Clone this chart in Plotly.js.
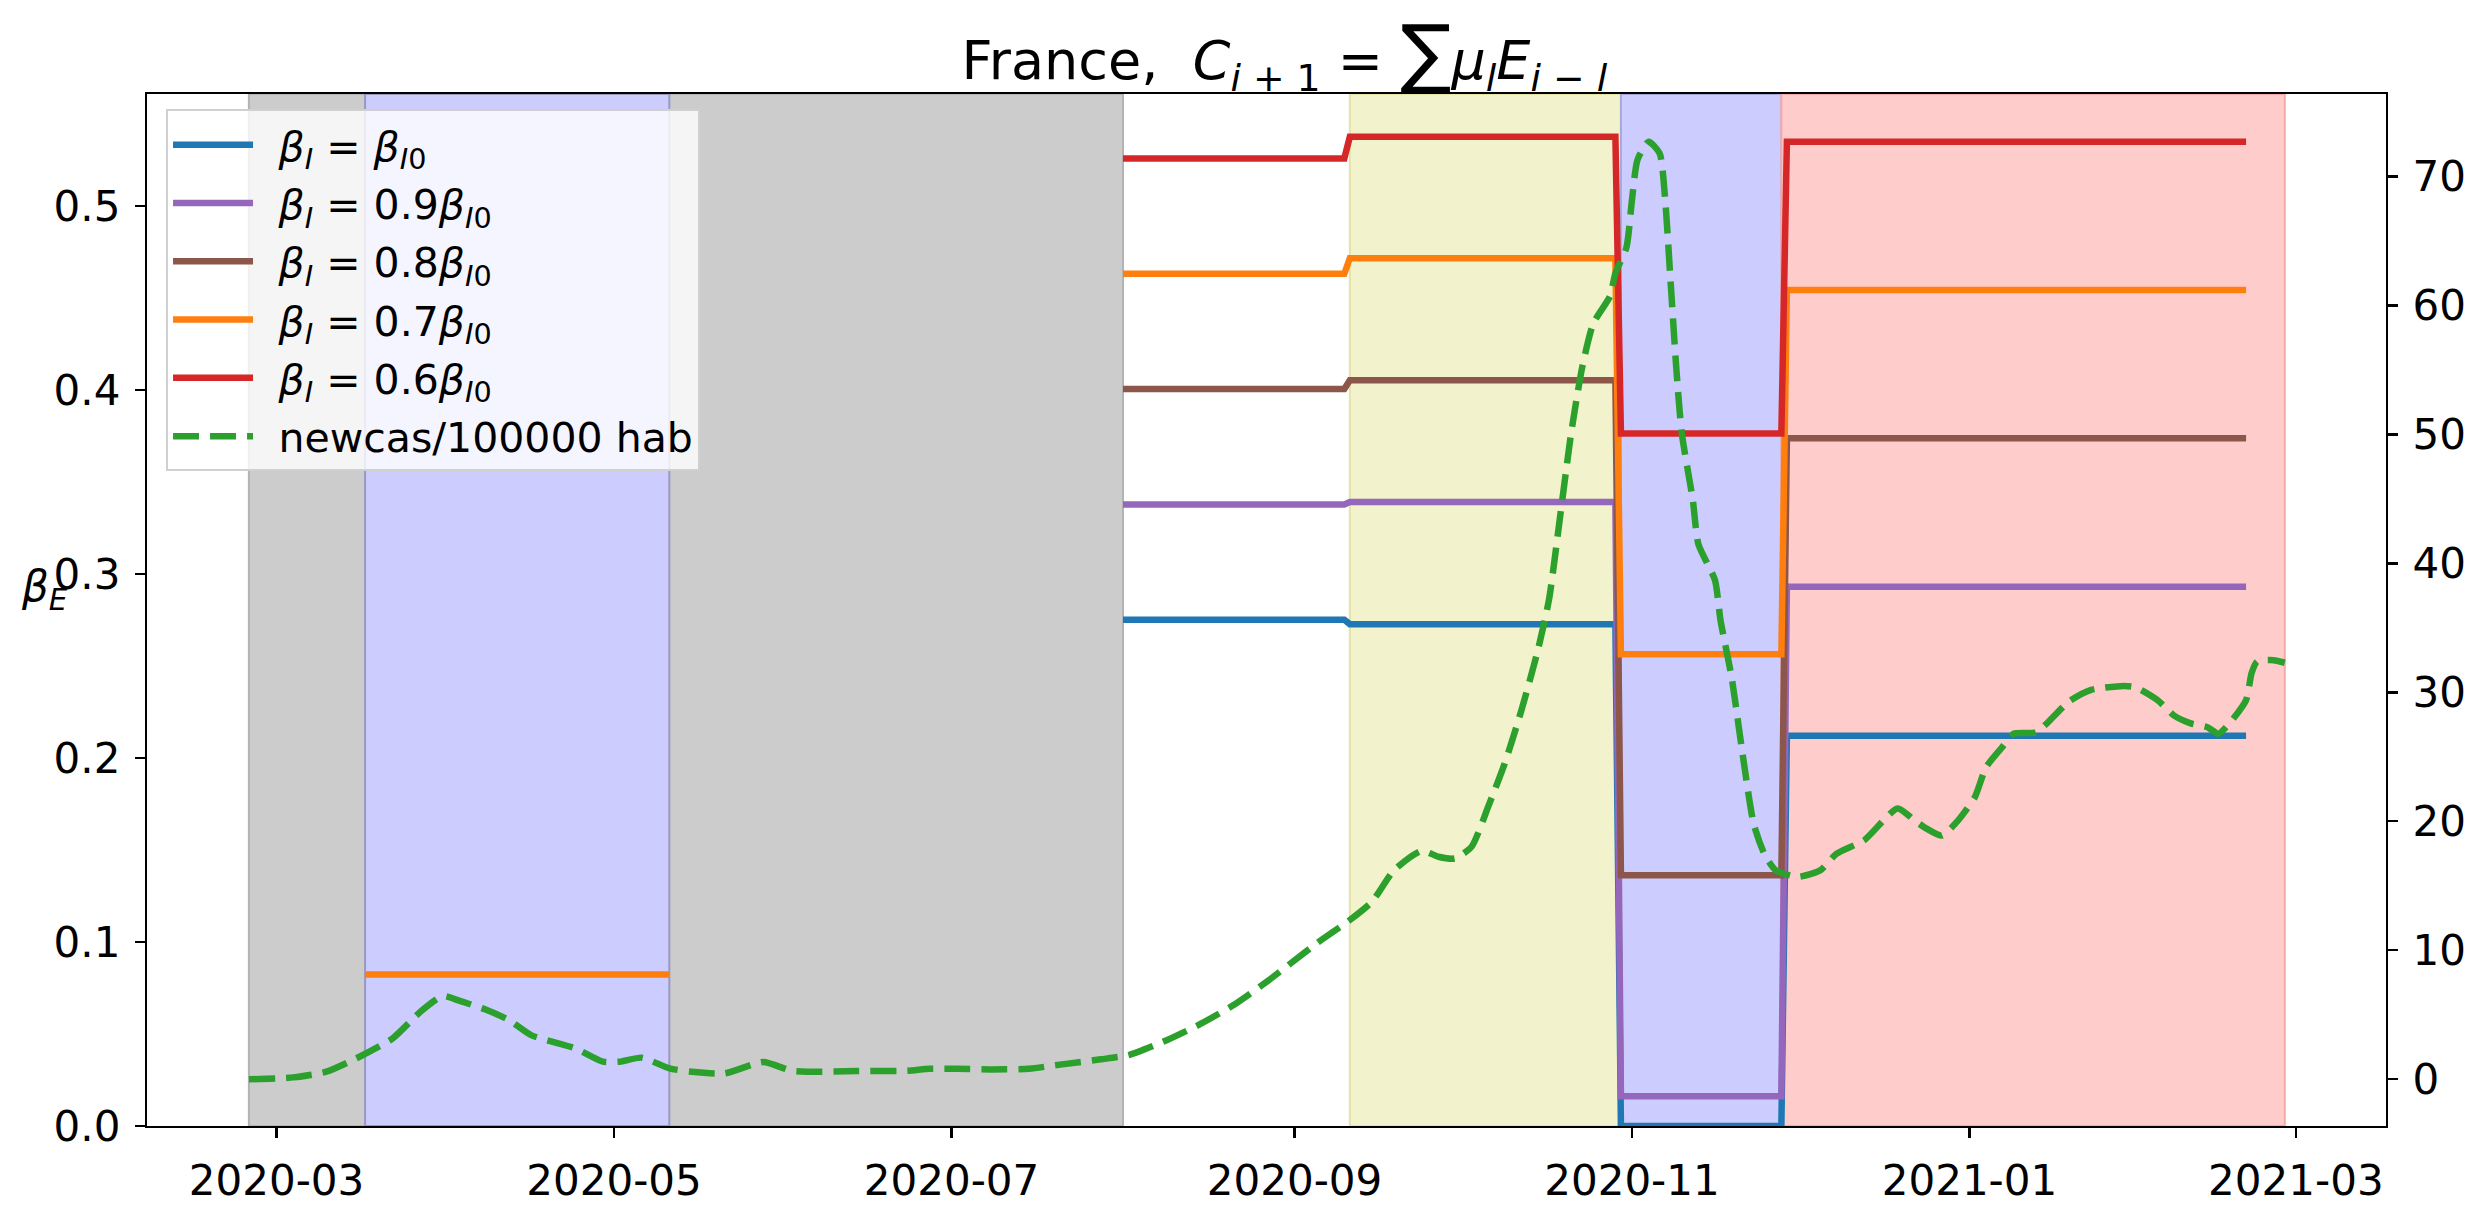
<!DOCTYPE html>
<html>
<head>
<meta charset="utf-8">
<script src="https://cdn.plot.ly/plotly-3.0.1.min.js"></script>
<style>html,body{margin:0;padding:0;background:#fff;}#chart{width:2482px;height:1206px;}</style>
</head>
<body>
<div id="chart"></div>
<script>
// ---- data ----
const periodStart = ['2020-08-01', '2020-09-11', '2020-10-30', '2020-11-29'];
const periodEnd   = ['2020-09-10', '2020-10-29', '2020-11-28', '2021-02-20'];

const betaI_10 = [0.2752, 0.2728, 0.0000, 0.2121];
const betaI_09 = [0.3379, 0.3392, 0.0162, 0.2931];
const betaI_08 = [0.4006, 0.4054, 0.1363, 0.3738];
const betaI_07 = [0.4633, 0.4717, 0.2564, 0.4545];
const betaI_06 = [0.5260, 0.5377, 0.3765, 0.5350];

const lock1Dates = ['2020-03-17', '2020-05-11'];
const lock1Beta07 = 0.0823;

const newcasDates = ['2020-02-25','2020-03-04','2020-03-10','2020-03-16','2020-03-22','2020-03-27','2020-03-31','2020-04-03','2020-04-08','2020-04-12','2020-04-16','2020-04-24','2020-04-29','2020-05-02','2020-05-06','2020-05-11','2020-05-15','2020-05-21','2020-05-28','2020-06-02','2020-06-05','2020-06-14','2020-06-23','2020-06-27','2020-07-02','2020-07-08','2020-07-15','2020-07-21','2020-07-28','2020-08-02','2020-08-09','2020-08-15','2020-08-21','2020-08-27','2020-09-05','2020-09-11','2020-09-15','2020-09-19','2020-09-24','2020-09-27','2020-09-30','2020-10-03','2020-10-06','2020-10-09','2020-10-12','2020-10-15','2020-10-17','2020-10-19','2020-10-21','2020-10-23','2020-10-25','2020-10-28','2020-10-29','2020-10-31','2020-11-01','2020-11-02','2020-11-04','2020-11-06','2020-11-07','2020-11-08','2020-11-09','2020-11-10','2020-11-12','2020-11-13','2020-11-16','2020-11-17','2020-11-19','2020-11-21','2020-11-23','2020-11-25','2020-11-27','2020-12-01','2020-12-05','2020-12-08','2020-12-13','2020-12-19','2020-12-22','2020-12-24','2020-12-27','2020-12-30','2021-01-02','2021-01-04','2021-01-07','2021-01-09','2021-01-13','2021-01-15','2021-01-19','2021-01-23','2021-01-29','2021-01-31','2021-02-04','2021-02-07','2021-02-10','2021-02-13','2021-02-15','2021-02-17','2021-02-20','2021-02-21','2021-02-22','2021-02-25','2021-02-27'];
const newcasValues = [0.0,0.15,0.59,1.75,3.18,5.24,6.46,6.1,5.37,4.6,3.43,2.4,1.37,1.37,1.68,0.85,0.59,0.46,1.34,0.67,0.59,0.64,0.67,0.82,0.82,0.77,0.82,1.16,1.55,1.88,3.05,4.29,5.76,7.57,10.54,12.35,13.77,16.22,17.72,17.26,17.13,18.03,21.13,24.5,28.6,33.3,37.2,43.6,50.1,55.2,58.6,60.7,62.5,64.5,68.2,71.3,72.7,71.8,68.2,61.7,55.2,50.1,44.9,41.5,38.7,35.6,31.2,25.2,19.8,17.4,16.2,15.7,16.2,17.5,18.55,21.0,20.1,19.5,18.9,20.1,21.9,24.2,25.8,26.8,26.9,27.6,29.3,30.2,30.5,30.4,29.4,28.2,27.6,27.3,26.8,27.6,29.4,31.5,32.4,32.5,32.3];

// shaded periods
const graySpan   = ['2020-02-25', '2020-08-01'];
const blueSpans  = [['2020-03-17', '2020-05-11'], ['2020-10-30', '2020-11-28']];
const yellowSpan = ['2020-09-11', '2020-10-30'];
const pinkSpan   = ['2020-11-28', '2021-02-27'];

const seriesNames = [
  '<i>β</i><sub><i>I</i></sub> = <i>β</i><sub><i>I</i>0</sub>',
  '<i>β</i><sub><i>I</i></sub> = 0.9<i>β</i><sub><i>I</i>0</sub>',
  '<i>β</i><sub><i>I</i></sub> = 0.8<i>β</i><sub><i>I</i>0</sub>',
  '<i>β</i><sub><i>I</i></sub> = 0.7<i>β</i><sub><i>I</i>0</sub>',
  '<i>β</i><sub><i>I</i></sub> = 0.6<i>β</i><sub><i>I</i>0</sub>'
];
const newcasName = 'newcas/100000 hab';
const seriesColors = ['#1f77b4', '#9467bd', '#8c564b', '#ff7f0e', '#d62728'];

// ---- build step series ----
function steps(levels) {
  const xs = [], ys = [];
  for (let i = 0; i < levels.length; i++) {
    xs.push(periodStart[i], periodEnd[i]);
    ys.push(levels[i], levels[i]);
  }
  return {xs, ys};
}

const PAD = '\u2002';  // small gap between legend sample and label
const allLevels = [betaI_10, betaI_09, betaI_08, betaI_07, betaI_06];
const traces = [];
allLevels.forEach((lv, k) => {
  let {xs, ys} = steps(lv);
  if (k === 3) {
    xs = [lock1Dates[0], lock1Dates[1], '2020-06-15'].concat(xs);
    ys = [lock1Beta07, lock1Beta07, null].concat(ys);
  }
  traces.push({
    x: xs, y: ys, type: 'scatter', mode: 'lines', name: PAD + seriesNames[k],
    line: {color: seriesColors[k], width: 6.5},
    connectgaps: false, legendgroup: 'g' + k
  });
});
traces.push({
  x: newcasDates, y: newcasValues, type: 'scatter', mode: 'lines',
  name: PAD + newcasName, yaxis: 'y2',
  line: {color: '#2ca02c', width: 6.5, dash: '26px,11px', shape: 'spline', smoothing: 0.6},
  legendgroup: 'g5'
});

// ---- shapes ----
function vrect(span, fill, edge) {
  return {type: 'rect', xref: 'x', yref: 'paper', x0: span[0], x1: span[1], y0: 0, y1: 1,
          fillcolor: fill, line: {color: edge, width: 2}, layer: 'below'};
}
const shapes = [
  vrect(graySpan, '#cccccc', '#b3b3b3'),
  vrect(blueSpans[0], '#ccccff', '#9999c0'),
  vrect(yellowSpan, '#f2f2cc', '#e3e3a8'),
  vrect(blueSpans[1], '#ccccff', '#a8a8d8'),
  vrect(pinkSpan, '#ffcccc', '#f5aaaa')
];

const FONT = 'DejaVu Sans, Verdana, sans-serif';

const layout = {
  width: 2482, height: 1206,
  margin: {l: 147, r: 96, t: 94, b: 80},
  paper_bgcolor: '#ffffff', plot_bgcolor: '#ffffff',
  font: {family: FONT, size: 42, color: '#000'},
  title: {
    text: 'France,  <i>C</i><sub><i>i</i> + 1</sub> = <span style="font-size:76px">∑</span><i>μ</i><sub><i>l</i></sub><i>E</i><sub><i>i</i> − <i>l</i></sub>',
    font: {family: FONT, size: 54, color: '#000'},
    xref: 'paper', x: 0.508, xanchor: 'center',
    yref: 'container', y: 0.95, yanchor: 'middle'
  },
  showlegend: true,
  legend: {
    x: 0.0085, y: 0.985, xanchor: 'left', yanchor: 'top',
    bgcolor: 'rgba(255,255,255,0.8)', bordercolor: '#d0d0d0', borderwidth: 2,
    font: {family: FONT, size: 41, color: '#000'},
    itemwidth: 80,
    traceorder: 'grouped', tracegroupgap: 2
  },
  xaxis: {
    type: 'date', range: ['2020-02-06 14:00', '2021-03-17 07:00'],
    tick0: '2020-03-01', dtick: 'M2', tickformat: '%Y-%m',
    showgrid: false, zeroline: false,
    showline: true, linecolor: '#000', linewidth: 2.2, mirror: true,
    ticks: 'outside', ticklen: 10, tickwidth: 2.2, tickcolor: '#000',
    ticklabelstandoff: 6,
    tickfont: {family: FONT, size: 42, color: '#000'}
  },
  yaxis: {
    range: [0, 0.561], tickvals: [0, 0.1, 0.2, 0.3, 0.4, 0.5], tickformat: '.1f',
    showgrid: false, zeroline: false,
    showline: true, linecolor: '#000', linewidth: 2.2,
    ticks: 'outside', ticklen: 10, tickwidth: 2.2, tickcolor: '#000',
    ticklabelstandoff: 6,
    tickfont: {family: FONT, size: 42, color: '#000'}
  },
  yaxis2: {
    overlaying: 'y', side: 'right', range: [-3.62, 76.4],
    tickvals: [0, 10, 20, 30, 40, 50, 60, 70],
    showgrid: false, zeroline: false,
    showline: true, linecolor: '#000', linewidth: 2.2,
    ticks: 'outside', ticklen: 10, tickwidth: 2.2, tickcolor: '#000',
    ticklabelstandoff: 6,
    tickfont: {family: FONT, size: 42, color: '#000'}
  },
  shapes: shapes,
  annotations: [{
    xref: 'paper', yref: 'paper', x: -0.057, y: 0.52, xanchor: 'left', yanchor: 'middle',
    text: '<i>β</i><sub><i>E</i></sub>', showarrow: false,
    font: {family: FONT, size: 42, color: '#000'}
  }]
};

Plotly.newPlot('chart', traces, layout, {staticPlot: true, displayModeBar: false});
</script>
</body>
</html>
